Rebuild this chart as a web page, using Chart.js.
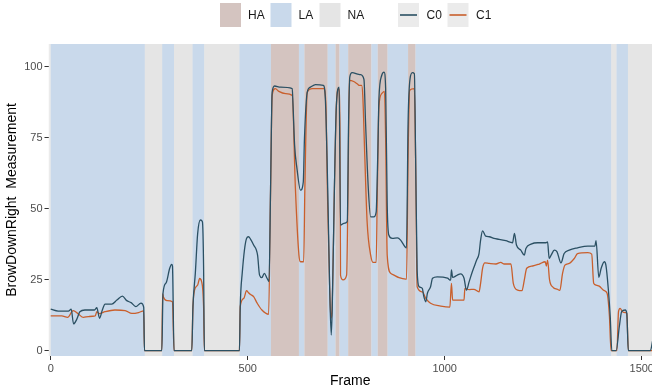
<!DOCTYPE html>
<html>
<head>
<meta charset="utf-8">
<script src="https://cdn.jsdelivr.net/npm/chart.js@4"></script>
<style>
  body { margin: 0; background: #fff; }
  canvas { display: block; }
</style>
</head>
<body>
<canvas id="myChart" width="652" height="391"></canvas>
<script>
// frame / value pairs
var c0Frames = [0, 19, 45, 52, 58, 66, 74, 87, 111, 117, 124, 131, 138, 155, 168, 182, 193, 204, 216, 229, 236, 238,
  282, 285, 293, 302, 307, 309, 313, 358, 361, 367, 373, 380, 385, 388, 390, 479, 481, 486, 497, 502, 507, 515, 525,
  530, 536, 542, 549, 554, 558, 562, 568, 583, 613, 615, 619, 625, 634, 641, 644, 651, 659, 672, 692, 697, 703, 708,
  712, 714.5, 720, 725, 732, 735.5, 744, 752.6, 756, 759, 765, 782, 786, 795, 799, 806, 812, 820, 826, 830, 833, 840,
  846, 850, 854, 858, 867, 880, 888, 899, 903, 907, 912, 918, 923, 926, 930, 935, 943, 947, 952, 956, 964, 969, 981,
  1007, 1015, 1017, 1020, 1032, 1040, 1049, 1055, 1062, 1070, 1081, 1087, 1091, 1096, 1104, 1113, 1125, 1138, 1155,
  1172, 1177, 1182, 1193, 1202, 1206, 1219, 1236, 1257, 1261, 1265, 1270, 1278, 1285, 1295, 1303, 1316, 1337, 1363,
  1381, 1384, 1391, 1397, 1405, 1409, 1415, 1420, 1424, 1435, 1443, 1449, 1458, 1462, 1466, 1522, 1528];
var c0Values = [14.6, 13.9, 13.9, 14.6, 9.4, 11.0, 13.7, 14.3, 14.3, 15.1, 11.4, 14.3, 16.4, 16.4, 17.8, 19.2, 17.6, 16.9, 15.5, 16.7, 15.3, 0,
  0, 20.2, 23.9, 29, 30.4, 29.8, 0, 0, 15.5, 27.2, 41.3, 46, 45.4, 29.5, 0, 0, 15.5, 27.2, 39.5, 40.1, 39.3, 37.2, 33.6,
  26.6, 25.7, 27.2, 25.5, 24.3, 57, 91, 93.2, 92.8, 92.3, 86.4, 72.3, 64.1, 56.5, 59.4, 74.7, 91, 92.8, 93.7, 93.4, 88.7, 57.1, 21.9,
  5.5, 14.9, 57.1, 86.4, 92.8, 44.2, 44.8, 45.4, 80.5, 96.3, 97.9, 97.3, 97.2, 95.5, 80.5, 57.1, 47.1, 47.1, 48.9, 68.8, 88.7, 96.9,
  98.1, 92.3, 51.2, 40.7, 39.5, 39.7, 38.9, 36.6, 36.2, 80.5, 95.8, 97.9, 97.5, 68.8, 28, 22.5, 21.9, 19, 17.2, 20.2, 22.5, 25.5, 26,
  25.5, 24.8, 28.4, 25.8, 26.6, 27, 25.5, 21.3, 24.3, 27.8, 31.9, 34.2, 38.9, 42.2, 40.3, 40.1, 39.5, 39.2, 38.7,
  38, 41.3, 37.2, 35.4, 33.6, 36, 37.5, 38, 38, 38.3, 32.5, 33.6, 35.4, 34.8, 30.9, 34.2, 35.4, 36.2, 36.8,
  36.8, 38.7, 25.8, 29, 31.3, 30.1, 21.9, 12, 0, 0, 8.4, 13.7, 14.3, 13.1, 0, 0, 3.8];

var c1Frames = [0, 28, 43, 57, 70, 83, 96, 113, 117, 123, 138, 163, 189, 206, 223, 236, 238,
  282, 284, 286, 295, 309, 313, 358, 361, 365, 373, 378, 383, 388, 390, 479, 481, 490, 497, 502, 507, 515, 524, 536, 553,
  558, 562, 570, 579, 596, 613, 621, 630, 634, 642, 645, 651, 664, 693, 698, 703, 708, 711, 714, 720, 725, 731, 734,
  735.5, 742, 751, 755, 758, 769, 777.6, 784, 789, 792, 797, 803, 812, 818, 826, 829, 833, 840, 847, 850, 854, 863,
  871, 884, 901, 903, 907, 911, 923, 926, 930, 943, 952, 964, 990, 1013, 1017, 1020, 1049, 1051, 1062, 1074, 1087,
  1091, 1096, 1102, 1113, 1130, 1142, 1151, 1168, 1174, 1185, 1196, 1202, 1208, 1223, 1240, 1255, 1258, 1261, 1266,
  1275, 1286, 1292, 1299, 1305, 1316, 1329, 1337, 1363, 1373, 1378, 1384, 1392, 1405, 1412, 1418, 1422, 1437, 1441,
  1445, 1451, 1459, 1462, 1466, 1528];
var c1Values = [12.2, 12.2, 11.7, 14.1, 12.9, 11.7, 12, 12.2, 13.7, 13, 13.7, 14.3, 14.1, 13.1, 13.4, 14, 0,
  0, 20, 18.9, 17.6, 17.2, 0, 0, 15.5, 21.3, 23.1, 25.4, 24.3, 15.5, 0, 0, 15.5, 18.4, 21.1, 20.4, 19.8, 19, 16.7, 14.3, 12.8,
  57, 89.9, 92.3, 91.3, 90.5, 89.9, 57.1, 33.6, 31.3, 31.3, 57.1, 91, 92.3, 92.3, 87.6, 51.3, 21.9, 11.4, 14.9, 57, 86.4, 92.3, 80,
  26.6, 24.9, 26.6, 63, 95.2, 94.8, 94, 93.4, 93.4, 89.9, 68.8, 45.4, 33.6, 31.1, 31.1, 57.1, 86, 90.5, 91.3, 74.7, 33.6, 27.2,
  26.6, 25.7, 25.2, 25.2, 68.8, 91.7, 92.3, 68.8, 22.5, 20.7, 18.4, 16.7, 15.7, 15.3, 23.7, 17.8, 17.8, 21.9, 21.5, 21.6, 20.7,
  23.7, 29, 30.9, 30.7, 30.5, 31.1, 30.5, 30.5, 23.7, 21.3, 21.1, 24.9, 29, 29.8, 30.5, 31.3, 29.8, 31.9, 24.9,
  22.3, 21.6, 21.2, 27.2, 30.1, 30.7, 32.5, 34.2, 34.5, 34, 23.7, 23.1, 22.7, 21.1, 20.2, 12, 0, 0, 13.7,
  14.9, 13.7, 13.4, 13.1, 0, 0];

// background annotation spans
var regionStart = [0, 239, 283, 313, 360, 390, 479, 559, 630, 644, 703, 723, 733, 755, 814, 830, 855, 907, 926, 1423, 1436, 1465];
var regionEnd   = [239, 283, 313, 360, 390, 479, 559, 630, 644, 703, 723, 733, 755, 814, 830, 855, 907, 926, 1423, 1436, 1465, 1530];
var regionLabel = ['LA', 'NA', 'LA', 'NA', 'LA', 'NA', 'LA', 'HA', 'LA', 'HA', 'LA', 'HA', 'LA', 'HA', 'LA', 'HA', 'LA', 'HA', 'LA', 'NA', 'LA', 'NA'];

var xTicks = [0, 500, 1000, 1500];
var yTicks = [0, 25, 50, 75, 100];

var regionColors = { HA: '#d4c4c0', LA: '#c9d9eb', NA: '#e5e5e5' };
var lineColors = { C0: '#2b5063', C1: '#c95f2c' };
var FONT = '"Liberation Sans", Arial, Helvetica, sans-serif';

function toPoints(xs, ys) {
    return xs.map(function (x, i) { return { x: x, y: ys[i] }; });
}

var regionsPlugin = {
    id: 'regions',
    beforeDatasetsDraw: function (chart) {
        var ctx = chart.ctx, a = chart.chartArea, xs = chart.scales.x;
        ctx.save();
        ctx.beginPath();
        ctx.rect(a.left, a.top, a.right - a.left, a.bottom - a.top);
        ctx.clip();
        ctx.fillStyle = '#ebebeb';
        ctx.fillRect(a.left, a.top, a.right - a.left, a.bottom - a.top);
        for (var i = 0; i < regionStart.length; i++) {
            var x0 = xs.getPixelForValue(regionStart[i]);
            var x1 = xs.getPixelForValue(regionEnd[i]);
            ctx.fillStyle = regionColors[regionLabel[i]];
            ctx.fillRect(x0, a.top, x1 - x0, a.bottom - a.top);
        }
        ctx.restore();
    }
};

var legendPlugin = {
    id: 'topLegend',
    afterDraw: function (chart) {
        var ctx = chart.ctx;
        ctx.save();
        ctx.font = '12px ' + FONT;
        ctx.textBaseline = 'middle';
        var fills = [['HA', 220], ['LA', 270.5], ['NA', 319.5]];
        fills.forEach(function (f) {
            ctx.fillStyle = regionColors[f[0]];
            ctx.fillRect(f[1], 3, 21, 24);
            ctx.fillStyle = '#1a1a1a';
            ctx.fillText(f[0], f[1] + 28, 15.5);
        });
        var lines = [['C0', 398], ['C1', 447.5]];
        lines.forEach(function (l) {
            ctx.fillStyle = '#ebebeb';
            ctx.fillRect(l[1], 3, 21, 24);
            ctx.strokeStyle = lineColors[l[0]];
            ctx.lineWidth = 1.6;
            ctx.beginPath();
            ctx.moveTo(l[1] + 2, 15);
            ctx.lineTo(l[1] + 19, 15);
            ctx.stroke();
            ctx.fillStyle = '#1a1a1a';
            ctx.fillText(l[0], l[1] + 28.5, 15.5);
        });
        ctx.restore();
    }
};

var ctx = document.getElementById('myChart').getContext('2d');
var myChart = new Chart(ctx, {
    type: 'line',
    data: {
        datasets: [{
            label: 'C0',
            data: toPoints(c0Frames, c0Values),
            borderColor: lineColors.C0,
            borderWidth: 1.3,
            pointRadius: 0,
            cubicInterpolationMode: 'monotone'
        }, {
            label: 'C1',
            data: toPoints(c1Frames, c1Values),
            borderColor: lineColors.C1,
            borderWidth: 1.3,
            pointRadius: 0,
            cubicInterpolationMode: 'monotone'
        }]
    },
    options: {
        responsive: false,
        animation: false,
        devicePixelRatio: 1,
        layout: { padding: { top: 44, right: 0, left: 0, bottom: 0 } },
        plugins: {
            legend: { display: false },
            tooltip: { enabled: false }
        },
        scales: {
            x: {
                type: 'linear',
                min: -5.6,
                max: 1526,
                afterBuildTicks: function (scale) {
                    scale.ticks = xTicks.map(function (v) { return { value: v }; });
                },
                afterFit: function (scale) {
                    scale.height = 35;
                    scale.paddingLeft = 0;
                    scale.paddingRight = 0;
                },
                grid: { drawOnChartArea: false, tickLength: 4, tickColor: '#333333' },
                border: { display: false },
                ticks: {
                    autoSkip: false, maxRotation: 0, padding: 2, color: '#4d4d4d',
                    font: { size: 11, family: FONT },
                    callback: function (v) { return String(v); }
                },
                title: { display: true, text: 'Frame', color: '#000', padding: { top: 0, bottom: 1 }, font: { size: 14, family: FONT } }
            },
            y: {
                min: -1.9,
                max: 108,
                afterBuildTicks: function (scale) {
                    scale.ticks = yTicks.map(function (v) { return { value: v }; });
                },
                afterFit: function (scale) {
                    scale.width = 48.5;
                    scale.paddingTop = 0;
                    scale.paddingBottom = 0;
                },
                grid: { drawOnChartArea: false, tickLength: 4, tickColor: '#333333' },
                border: { display: false },
                ticks: { autoSkip: false, padding: 2, color: '#4d4d4d', font: { size: 11, family: FONT } },
                title: { display: true, text: 'BrowDownRight  Measurement', color: '#000', padding: { top: 4, bottom: 0 }, font: { size: 14, family: FONT } }
            }
        }
    },
    plugins: [regionsPlugin, legendPlugin]
});
</script>
</body>
</html>
